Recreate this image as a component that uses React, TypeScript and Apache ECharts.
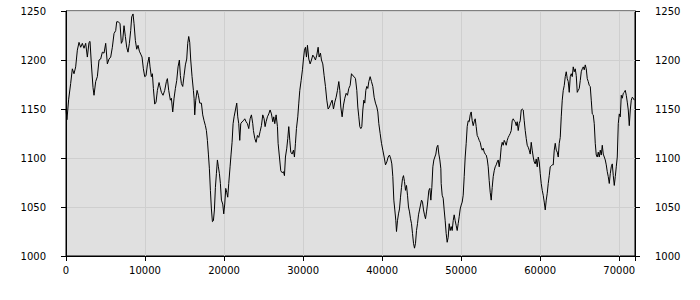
import React, { useEffect, useRef } from "react";
import * as echarts from "echarts";

// [x, value] pairs
const segmentA: [number, number][] = [
  [0, 1150], [120, 1139], [338, 1160], [591, 1176], [802, 1191], [1013, 1186], [1224, 1193], [1435, 1210], [1646, 1218], [1857, 1213],
  [2068, 1217], [2279, 1212], [2490, 1217], [2701, 1203], [2912, 1218], [3039, 1219], [3207, 1196], [3418, 1172], [3545, 1164], [3756, 1178],
  [3967, 1183], [4178, 1200], [4389, 1201], [4600, 1208], [4811, 1207], [5022, 1217], [5233, 1196], [5444, 1201], [5655, 1203], [5866, 1213],
  [6077, 1227], [6288, 1230], [6415, 1239], [6626, 1239], [6837, 1237], [7005, 1217], [7174, 1220], [7343, 1235], [7512, 1224], [7681, 1213],
  [7849, 1208], [8018, 1217], [8187, 1230], [8314, 1244], [8482, 1247], [8609, 1237], [8778, 1220], [8947, 1211], [9115, 1215], [9284, 1209],
  [9453, 1206], [9622, 1203], [9791, 1191], [9959, 1183], [10128, 1184], [10297, 1195], [10508, 1203], [10635, 1193], [10803, 1183], [10930, 1186],
  [11057, 1171], [11225, 1155], [11394, 1157], [11563, 1169], [11774, 1177],
];

const segmentB: [number, number][] = [
  [11858, 1174], [12069, 1167], [12280, 1164], [12491, 1169], [12702, 1178], [12829, 1181], [12997, 1169], [13208, 1159], [13335, 1161], [13504, 1147],
  [13673, 1161], [13841, 1171], [14010, 1179], [14179, 1193], [14348, 1200], [14474, 1184], [14601, 1176], [14770, 1173], [14939, 1184], [15107, 1195],
  [15276, 1201], [15403, 1217], [15529, 1224], [15656, 1218], [15783, 1200], [15951, 1183], [16120, 1169], [16205, 1161], [16289, 1144], [16416, 1159],
  [16585, 1169], [16753, 1164], [16922, 1156], [17133, 1156], [17302, 1144], [17471, 1138], [17639, 1133], [17766, 1128], [17893, 1118], [18019, 1104],
  [18146, 1089], [18272, 1067], [18399, 1048], [18526, 1035], [18652, 1036], [18779, 1047], [18905, 1070], [19032, 1084], [19159, 1098], [19285, 1091],
  [19412, 1084], [19538, 1074], [19665, 1057], [19834, 1053], [19960, 1043], [20087, 1053], [20214, 1069], [20340, 1065], [20467, 1060], [20593, 1074],
  [20762, 1091], [20889, 1104], [21015, 1116], [21142, 1135], [21269, 1142], [21437, 1149], [21606, 1156], [21733, 1142], [21859, 1135], [21986, 1118],
  [22113, 1135], [22281, 1137], [22450, 1138], [22619, 1140], [22788, 1137], [22957, 1135], [23125, 1130], [23294, 1140], [23463, 1144], [23632, 1135],
];

const segmentC: [number, number][] = [
  [23717, 1128], [23886, 1120], [24054, 1116], [24223, 1123], [24392, 1121], [24561, 1127], [24730, 1133], [24898, 1144], [25067, 1140], [25194, 1132],
  [25320, 1137], [25489, 1142], [25658, 1145], [25827, 1149], [25996, 1145], [26164, 1137], [26291, 1142], [26418, 1135], [26586, 1144], [26755, 1132],
  [26840, 1115], [27008, 1101], [27177, 1087], [27346, 1085], [27515, 1086], [27641, 1082], [27768, 1101], [27937, 1110], [28063, 1120], [28190, 1132],
  [28317, 1118], [28443, 1106], [28612, 1104], [28781, 1108], [28907, 1101], [29034, 1115], [29161, 1130], [29329, 1142], [29456, 1156], [29583, 1169],
  [29751, 1179], [29920, 1190], [30047, 1201], [30173, 1210], [30300, 1213], [30427, 1203], [30553, 1215], [30722, 1201], [30891, 1196], [31060, 1200],
  [31228, 1205], [31397, 1203], [31566, 1200], [31735, 1205], [31904, 1213], [32030, 1203], [32199, 1207], [32326, 1200], [32494, 1196], [32663, 1184],
  [32832, 1173], [33001, 1159], [33170, 1150], [33338, 1152], [33507, 1156], [33676, 1159], [33845, 1150], [34014, 1157], [34182, 1162], [34351, 1169],
  [34520, 1178], [34647, 1169], [34773, 1152], [34942, 1142], [35111, 1154], [35280, 1161], [35448, 1166],
];

const segmentD: [number, number][] = [
  [35617, 1164], [35786, 1171], [35954, 1174], [36123, 1186], [36292, 1184], [36461, 1183], [36630, 1181], [36798, 1169], [36925, 1152], [37052, 1142],
  [37178, 1132], [37305, 1130], [37431, 1132], [37558, 1149], [37685, 1159], [37811, 1156], [37938, 1169], [38064, 1173], [38191, 1171], [38318, 1178],
  [38486, 1183], [38655, 1178], [38824, 1173], [38993, 1162], [39162, 1156], [39330, 1152], [39457, 1147], [39584, 1135], [39752, 1125], [39921, 1115],
  [40090, 1108], [40259, 1101], [40428, 1093], [40596, 1096], [40765, 1101], [40934, 1103], [41103, 1099], [41229, 1094], [41356, 1081], [41483, 1057],
  [41609, 1047], [41736, 1036], [41820, 1025], [41947, 1036], [42073, 1043], [42200, 1048], [42327, 1060], [42453, 1070], [42580, 1079], [42706, 1082],
  [42833, 1076], [42960, 1067], [43086, 1072], [43213, 1062], [43339, 1050], [43466, 1045], [43593, 1038], [43719, 1033], [43846, 1023], [43972, 1013],
  [44099, 1008], [44226, 1013], [44352, 1026], [44479, 1033], [44605, 1042], [44732, 1047], [44859, 1052], [44985, 1057], [45112, 1055], [45238, 1047],
  [45365, 1042], [45492, 1038], [45618, 1045], [45745, 1053], [45914, 1067], [46040, 1069], [46167, 1057], [46293, 1070], [46420, 1091], [46547, 1098],
  [46673, 1101], [46800, 1104], [46926, 1111], [47053, 1113], [47180, 1104], [47306, 1098], [47433, 1089],
];

const segmentE: [number, number][] = [
  [47475, 1074], [47601, 1062], [47728, 1059], [47854, 1047], [47981, 1036], [48108, 1023], [48234, 1014], [48361, 1019], [48487, 1033], [48614, 1026],
  [48741, 1030], [48867, 1026], [48994, 1036], [49120, 1042], [49247, 1036], [49374, 1031], [49500, 1026], [49627, 1033], [49753, 1040], [49880, 1048],
  [50007, 1052], [50133, 1055], [50260, 1062], [50386, 1081], [50513, 1101], [50640, 1115], [50766, 1132], [50893, 1138], [51019, 1137], [51146, 1144],
  [51273, 1147], [51399, 1138], [51526, 1133], [51652, 1137], [51779, 1140], [51906, 1132], [52032, 1123], [52159, 1121], [52285, 1118], [52412, 1116],
  [52539, 1111], [52665, 1108], [52792, 1110], [52918, 1106], [53045, 1104], [53172, 1103], [53298, 1099], [53425, 1091], [53551, 1077], [53678, 1065],
  [53805, 1057], [53931, 1070], [54058, 1081], [54184, 1087], [54311, 1091], [54438, 1093], [54564, 1096], [54691, 1098], [54817, 1091], [54944, 1099],
  [55071, 1111], [55197, 1116], [55324, 1113], [55450, 1118], [55577, 1116], [55704, 1113], [55830, 1118], [55957, 1121], [56083, 1123], [56210, 1125],
  [56337, 1128], [56463, 1138], [56590, 1140], [56716, 1138], [56843, 1137], [56970, 1133], [57096, 1137], [57223, 1128], [57349, 1135], [57476, 1138],
  [57603, 1149], [57729, 1150], [57856, 1149], [57982, 1138], [58109, 1128], [58236, 1120], [58362, 1113], [58489, 1111], [58615, 1108], [58742, 1104],
  [58869, 1116], [58995, 1108], [59122, 1101], [59248, 1096], [59375, 1094],
];

const segmentF: [number, number][] = [
  [59502, 1099], [59629, 1091], [59755, 1101], [59882, 1096], [60009, 1084], [60135, 1074], [60262, 1067], [60388, 1062], [60515, 1055], [60642, 1047],
  [60768, 1057], [60895, 1064], [61021, 1074], [61148, 1082], [61275, 1091], [61401, 1092], [61528, 1093], [61654, 1093], [61781, 1108], [61908, 1115],
  [62034, 1108], [62161, 1106], [62287, 1101], [62414, 1115], [62541, 1121], [62667, 1142], [62794, 1159], [62920, 1169], [63047, 1174], [63174, 1183],
  [63300, 1188], [63427, 1181], [63553, 1178], [63680, 1167], [63807, 1183], [63933, 1186], [64060, 1183], [64186, 1193], [64313, 1188], [64440, 1191],
  [64566, 1184], [64693, 1167], [64819, 1169], [64946, 1171], [65073, 1179], [65199, 1188], [65326, 1191], [65452, 1193], [65579, 1190], [65706, 1195],
  [65832, 1191], [65959, 1181], [66085, 1178], [66212, 1174], [66339, 1173], [66465, 1159], [66592, 1145], [66718, 1144], [66845, 1135], [66972, 1115],
  [67098, 1103], [67225, 1101], [67351, 1106], [67478, 1101], [67605, 1108], [67731, 1103], [67858, 1113], [67984, 1104], [68111, 1101], [68238, 1098],
  [68364, 1093], [68491, 1086], [68617, 1081], [68744, 1074], [68871, 1084], [68997, 1091], [69124, 1094], [69250, 1082], [69377, 1072], [69504, 1081],
  [69630, 1091], [69757, 1101], [69883, 1135], [70010, 1145], [70137, 1142], [70263, 1164], [70390, 1161], [70516, 1166], [70643, 1167], [70770, 1169],
  [70896, 1164], [71023, 1157], [71149, 1149], [71276, 1133], [71403, 1149], [71529, 1159], [71656, 1162], [71782, 1161], [71909, 1159],
];

const X_MIN = 0;
const X_MAX = 72000;
const X_INTERVAL = 10000;
const Y_MIN = 1000;
const Y_MAX = 1250;
const Y_INTERVAL = 50;

const FONT = "DejaVu Sans";

export default function App() {
  const ref = useRef<HTMLDivElement>(null);

  useEffect(() => {
    if (!ref.current) return;
    const chart = echarts.init(ref.current, undefined, { renderer: "svg" });
    const data = [...segmentA, ...segmentB, ...segmentC, ...segmentD, ...segmentE, ...segmentF];

    const yAxisCommon = {
      type: "value" as const,
      min: Y_MIN,
      max: Y_MAX,
      interval: Y_INTERVAL,
      axisLine: { show: true, lineStyle: { color: "#000", width: 1 } },
      axisTick: { show: true, length: 5, lineStyle: { color: "#000" } },
      axisLabel: {
        margin: 20,
        color: "#000",
        fontFamily: FONT,
        fontSize: 10,
        formatter: (v: number) => String(v),
      },
    };

    chart.setOption({
      animation: false,
      grid: {
        left: 66,
        right: 65,
        top: 11,
        bottom: 44,
        show: true,
        backgroundColor: "#e0e0e0",
        borderColor: "#000",
        borderWidth: 1,
      },
      xAxis: {
        type: "value",
        min: X_MIN,
        max: X_MAX,
        interval: X_INTERVAL,
        axisLine: { show: true, onZero: false, lineStyle: { color: "#000", width: 1 } },
        axisTick: { show: true, length: 5, lineStyle: { color: "#000" } },
        axisLabel: {
          margin: 9,
          color: "#000",
          fontFamily: FONT,
          fontSize: 10,
          formatter: (v: number) => (v % X_INTERVAL === 0 ? String(v) : ""),
        },
        splitLine: { show: true, lineStyle: { color: "#cfcfcf", width: 1 } },
      },
      yAxis: [
        {
          ...yAxisCommon,
          position: "left",
          splitLine: { show: true, lineStyle: { color: "#cfcfcf", width: 1 } },
        },
        {
          ...yAxisCommon,
          position: "right",
          splitLine: { show: false },
        },
      ],
      series: [
        {
          type: "line",
          data,
          showSymbol: false,
          symbol: "none",
          lineStyle: { color: "#000", width: 1 },
          yAxisIndex: 0,
        },
      ],
    });

    return () => {
      chart.dispose();
    };
  }, []);

  return (
    <div
      ref={ref}
      style={{ position: "absolute", left: 0, top: 0, width: 700, height: 300 }}
    />
  );
}
